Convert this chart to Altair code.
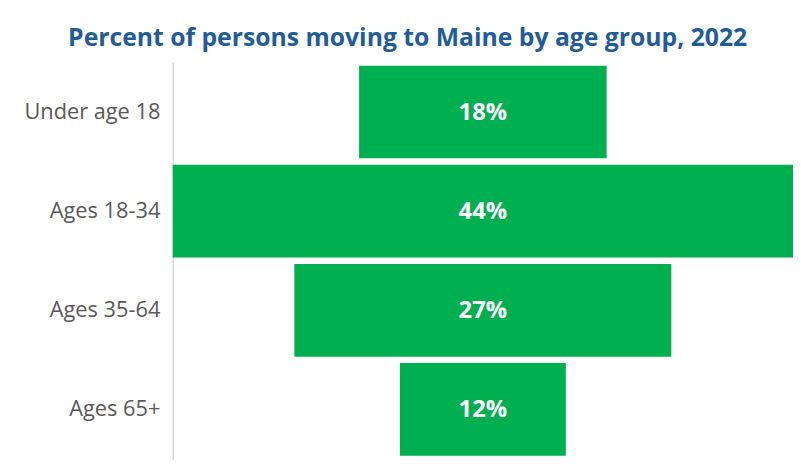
import altair as alt
import pandas as pd

categories = ["Under age 18", "Ages 18-34", "Ages 35-64", "Ages 65+"]
values = [17.6, 44.1, 26.8, 11.8]
labels = ["18%", "44%", "27%", "12%"]

df = pd.DataFrame({"cat": categories, "v": values, "lab": labels})

y = alt.Y("cat:N", sort=categories, title=None,
          scale=alt.Scale(paddingInner=0.065, paddingOuter=0.038),
          axis=alt.Axis(ticks=False, labelFontSize=22, labelColor="#595959",
                        labelFont="Open Sans", labelPadding=13,
                        domainColor="#D9D9D9", domainWidth=1.5))

xs = alt.Scale(domain=[-22.05, 22.05], nice=False, zero=False)

base = alt.Chart(df).transform_calculate(
    lo="-datum.v/2", hi="datum.v/2"
)

bars = base.mark_bar(color="#00B050").encode(
    x=alt.X("lo:Q", scale=xs, axis=None),
    x2="hi:Q",
    y=y,
)

text = base.mark_text(color="white", fontSize=24, fontWeight="bold",
                      font="Open Sans", dy=1).encode(
    x=alt.datum(0, scale=xs),
    y=alt.Y("cat:N", sort=categories),
    text="lab:N",
)

chart = alt.layer(bars, text).properties(
    width=627, height=402,
    title=alt.TitleParams(
        "Percent of persons moving to Maine by age group, 2022",
        font="Open Sans", fontSize=25, fontWeight="bold", color="#1F5C99",
        anchor="middle", dx=-76, offset=11,
    ),
    autosize=alt.AutoSizeParams(type="none"),
    padding={"left": 166.5, "top": 52, "right": 0, "bottom": 0},
).configure_view(stroke=None)

chart.save("out.html", embed_options={"renderer": "svg", "actions": False})
